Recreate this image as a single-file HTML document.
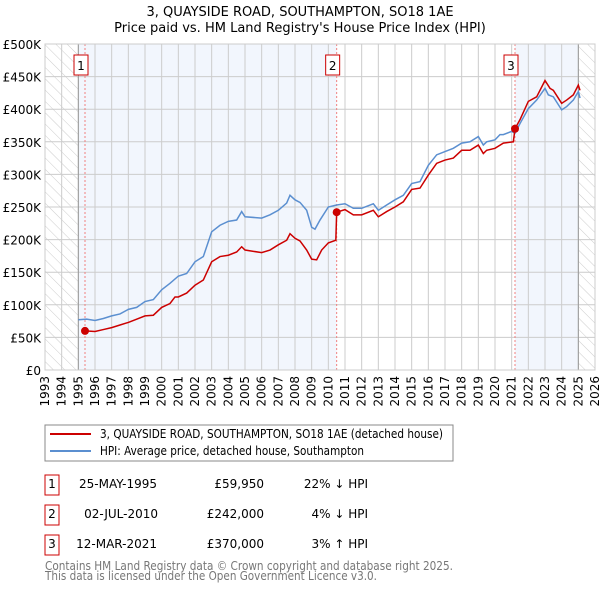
<!DOCTYPE html>
<html><head><meta charset="utf-8"><style>
body{margin:0;background:#fff}
svg text{font-family:"DejaVu Sans","Liberation Sans",sans-serif}
</style></head><body>
<svg id="c" width="600" height="590" xmlns="http://www.w3.org/2000/svg">
<defs><pattern id="hatch" patternUnits="userSpaceOnUse" width="8" height="8" patternTransform="rotate(-45)"><rect width="8" height="8" fill="#fff"/><line x1="0" y1="0" x2="0" y2="8" stroke="#ccc" stroke-width="1"/></pattern></defs>
<text x="300" y="16" text-anchor="middle" font-size="13">3, QUAYSIDE ROAD, SOUTHAMPTON, SO18 1AE</text>
<text x="300" y="32" text-anchor="middle" font-size="13">Price paid vs. HM Land Registry's House Price Index (HPI)</text>
<g id="plot"></g>
<g>
<rect x="45" y="425" width="408" height="36" fill="#fff" stroke="#888"/>
<line x1="50" y1="434" x2="91" y2="434" stroke="#cc0000" stroke-width="2"/>
<text x="100" y="438" font-size="12" textLength="343" lengthAdjust="spacingAndGlyphs">3, QUAYSIDE ROAD, SOUTHAMPTON, SO18 1AE (detached house)</text>
<line x1="50" y1="451" x2="91" y2="451" stroke="#5b8fd0" stroke-width="2"/>
<text x="100" y="455" font-size="12" textLength="264" lengthAdjust="spacingAndGlyphs">HPI: Average price, detached house, Southampton</text>
</g>
<g font-size="12">
<rect x="45" y="475" width="14" height="20" fill="#fff" stroke="#cc0000"/><text x="52" y="488" text-anchor="middle">1</text>
<text x="157" y="488" text-anchor="end">25-MAY-1995</text><text x="264" y="488" text-anchor="end">£59,950</text><text x="368" y="488" text-anchor="end">22% ↓ HPI</text>
<rect x="45" y="505" width="14" height="20" fill="#fff" stroke="#cc0000"/><text x="52" y="518" text-anchor="middle">2</text>
<text x="158" y="518" text-anchor="end">02-JUL-2010</text><text x="264" y="518" text-anchor="end">£242,000</text><text x="368" y="518" text-anchor="end">4% ↓ HPI</text>
<rect x="45" y="535" width="14" height="20" fill="#fff" stroke="#cc0000"/><text x="52" y="548" text-anchor="middle">3</text>
<text x="157" y="548" text-anchor="end">12-MAR-2021</text><text x="264" y="548" text-anchor="end">£370,000</text><text x="368" y="548" text-anchor="end">3% ↑ HPI</text>
</g>
<text x="45" y="570" font-size="12" fill="#777" textLength="408" lengthAdjust="spacingAndGlyphs">Contains HM Land Registry data © Crown copyright and database right 2025.</text>
<text x="45" y="580" font-size="12" fill="#777" textLength="332" lengthAdjust="spacingAndGlyphs">This data is licensed under the Open Government Licence v3.0.</text>
</svg>
<script>
const yearTicks=[1993,1994,1995,1996,1997,1998,1999,2000,2001,2002,2003,2004,2005,2006,2007,2008,2009,2010,2011,2012,2013,2014,2015,2016,2017,2018,2019,2020,2021,2022,2023,2024,2025,2026];
const valueTicks=[0,50,100,150,200,250,300,350,400,450,500];
const valueLabels=["£0","£50K","£100K","£150K","£200K","£250K","£300K","£350K","£400K","£450K","£500K"];
const hpiYears=[1995,1995.5,1996,1996.5,1997,1997.5,1998,1998.5,1999,1999.5,2000,2000.5,2001,2001.5,2002,2002.5,2003,2003.5,2004,2004.5,2004.8,2005,2006,2006.5,2007,2007.5,2007.7,2008,2008.3,2008.7,2009,2009.2,2009.5,2010,2010.5,2011,2011.5,2012,2012.7,2013,2013.5,2014,2014.5,2015,2015.5,2016,2016.5,2017,2017.5,2018,2018.5,2019,2019.3,2019.5,2020,2020.3,2020.5,2021,2021.2,2021.5,2022,2022.5,2023,2023.2,2023.5,2024,2024.3,2024.7,2025,2025.1];
const hpiValues=[77,78,76,79,83,86,93,96,105,108,123,133,144,148,166,174,212,222,228,230,243,235,233,238,245,256,268,261,257,245,219,216,230,250,253,255,248,248,255,245,253,261,268,286,289,314,330,335,340,348,350,358,345,350,353,361,361,366,363,378,401,414,432,422,419,399,404,414,427,417];
const priceYears=[1995.4,1996,1996.5,1997,1997.5,1998,1998.5,1999,1999.5,2000,2000.5,2000.8,2001,2001.5,2002,2002.5,2003,2003.5,2004,2004.5,2004.8,2005,2006,2006.5,2007,2007.5,2007.7,2008,2008.3,2008.7,2009,2009.3,2009.6,2010,2010.45,2010.5,2011,2011.5,2012,2012.7,2013,2013.5,2014,2014.5,2015,2015.5,2016,2016.5,2017,2017.5,2018,2018.5,2019,2019.3,2019.5,2020,2020.5,2021.1,2021.2,2021.5,2022,2022.5,2023,2023.3,2023.5,2024,2024.3,2024.7,2025,2025.1];
const priceValues=[60,59,62,65,69,73,78,83,84,96,102,112,112,118,130,138,166,174,176,181,189,184,180,184,192,199,209,202,198,184,170,169,184,195,199,242,246,238,238,245,235,243,250,258,277,279,299,317,322,325,337,337,345,332,337,340,348,350,370,384,412,419,444,432,429,409,414,422,437,429];
const saleYears=[1995.4,2010.5,2021.2];
const saleValues=[59.95,242,370];
const saleLabels=["1","2","3"];
const NS="http://www.w3.org/2000/svg";
const L=45,R=595,T=44,B=370;
const xs=y=>L+(y-1993)/(2026-1993)*(R-L);
const ys=v=>B-v/500*(B-T);
const g=document.getElementById('plot');
function mk(t,a,p){const e=document.createElementNS(NS,t);for(const k in a)e.setAttribute(k,a[k]);(p||g).appendChild(e);return e;}
let e;
e=mk('rect',{x:L,y:T,width:R-L,height:B-T,fill:'#fff'});


e=mk('rect',{x:xs(1993),y:T,width:xs(1995)-xs(1993),height:B-T,fill:'url(#hatch)'});


e=mk('rect',{x:xs(2025),y:T,width:xs(2026)-xs(2025),height:B-T,fill:'url(#hatch)'});


e=mk('rect',{x:xs(1995),y:T,width:xs(saleYears[1])-xs(1995),height:B-T,fill:'#f2f6fd'});


e=mk('rect',{x:xs(saleYears[2]),y:T,width:xs(2025)-xs(saleYears[2]),height:B-T,fill:'#f2f6fd'});


yearTicks.forEach(y=>{
 e=mk('line',{x1:xs(y),y1:T,x2:xs(y),y2:B,stroke:'#ccc'});
 
 
 e=mk('text',{x:0,y:0,'font-size':12,'text-anchor':'end',transform:`translate(${xs(y)+4},${B+6}) rotate(-90)`});
 e.textContent=y;
 
 
});
valueTicks.forEach((v,i)=>{
 e=mk('line',{x1:L,y1:ys(v),x2:R,y2:ys(v),stroke:'#ccc'});
 
 
 e=mk('text',{x:L-4,y:ys(v)+5,'font-size':12,'text-anchor':'end'});
 e.textContent=valueLabels[i];
 
 
});
e=mk('line',{x1:xs(1995),y1:T,x2:xs(1995),y2:B,stroke:'#999'});


e=mk('line',{x1:xs(2025),y1:T,x2:xs(2025),y2:B,stroke:'#999'});


saleYears.forEach((y,i)=>{
 e=mk('line',{x1:xs(y),y1:T,x2:xs(y),y2:B,stroke:'#f08080','stroke-dasharray':'2,2'});
 
 
 e=mk('rect',{x:xs(y)-11,y:T+11,width:14,height:20,fill:'#fff',stroke:'#cc0000'});
 
 
 e=mk('text',{x:xs(y)-4,y:T+26,'font-size':12,'text-anchor':'middle'});
 e.textContent=saleLabels[i];
 
 
});
e=mk('polyline',{points:hpiYears.map((y,i)=>xs(y)+','+ys(hpiValues[i])).join(' '),fill:'none',stroke:'#5b8fd0','stroke-width':1.5});


e=mk('polyline',{points:priceYears.map((y,i)=>xs(y)+','+ys(priceValues[i])).join(' '),fill:'none',stroke:'#cc0000','stroke-width':1.5});


saleYears.forEach((y,i)=>{
 e=mk('circle',{cx:xs(y),cy:ys(saleValues[i]),r:4,fill:'#cc0000'});
 
 
});
e=mk('rect',{x:L,y:T,width:R-L,height:B-T,fill:'none',stroke:'#ccc'});


</script>
</body></html>
